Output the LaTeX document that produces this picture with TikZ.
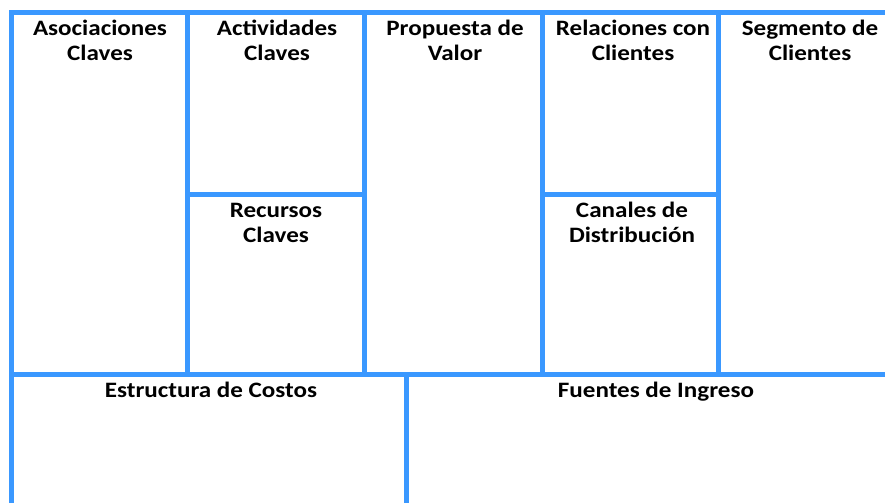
\documentclass[tikz,border=0pt]{standalone}
\usepackage{fontspec}
\setmainfont{Carlito}
\usepackage{tikz}

\definecolor{canvasblue}{RGB}{58,152,255}

\tikzset{
  cell/.style={draw=canvasblue, line width=3.75pt},
  title/.style={anchor=base, align=center, inner sep=0pt, xscale=1.14,
    font=\bfseries\fontsize{16.5}{18.75}\selectfont}
}

\begin{document}
\begin{tikzpicture}[x=0.75pt,y=-0.75pt]

\useasboundingbox (0,0) rectangle (885,503);
\clip (0,0) rectangle (885,503);

% upper part of the canvas
\draw[cell] (11,13) rectangle (187,374);
\draw[cell] (187,13) rectangle (364,194);
\draw[cell] (187,194) rectangle (364,374);
\draw[cell] (364,13) rectangle (542,374);
\draw[cell] (542,13) rectangle (718,194);
\draw[cell] (542,194) rectangle (718,374);
\draw[cell] (718,13) rectangle (904,374);

% lower part
\draw[cell] (11,374) rectangle (406,520);
\draw[cell] (406,374) rectangle (904,520);

% titles (base = last line)
\node[title] (asoc) at (100,61) {Asociaciones\\Claves};
\node[title] (activ) at (277,61) {Actividades\\Claves};
\node[title] (recur) at (276,242) {Recursos\\Claves};
\node[title] (prop) at (455,61) {Propuesta de\\Valor};
\node[title] (relac) at (633,61) {Relaciones con\\Clientes};
\node[title] (canal) at (632,242) {Canales de\\Distribución};
\node[title] (segm) at (810,61) {Segmento de\\Clientes};

\node[title] (costo) at (211,397) {Estructura de Costos};
\node[title] (ingre) at (656,397) {Fuentes de Ingreso};

\end{tikzpicture}
\end{document}
